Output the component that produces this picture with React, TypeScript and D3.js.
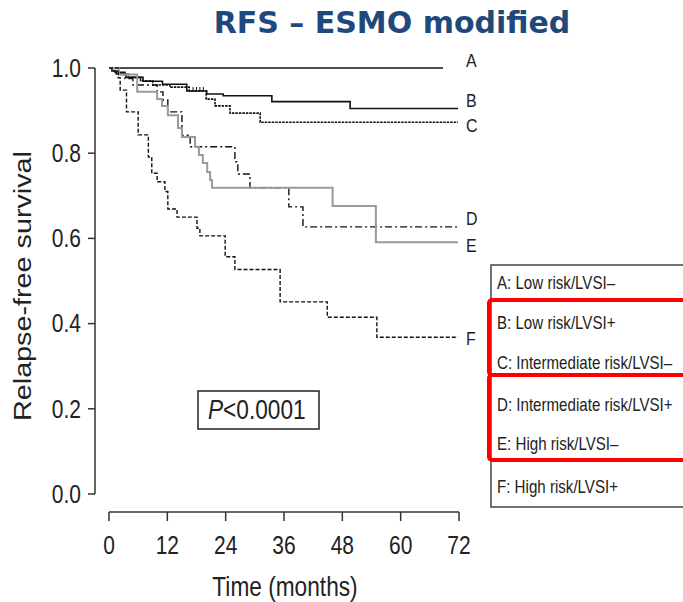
import React from 'react';
import * as d3 from 'd3';

// Kaplan-Meier steps: [time (months), survival]
const curveA: [number, number][] = [[0, 1], [68.7, 1]];
const curveB: [number, number][] = [
  [0, 1], [0.6, 0.993], [1.5, 0.986], [3.5, 0.978], [7.0, 0.969], [11.0, 0.962],
  [16.0, 0.946], [20.1, 0.939], [23.5, 0.935], [33.5, 0.921], [49.6, 0.905], [71.8, 0.905],
];
const curveC: [number, number][] = [
  [0, 1], [1.0, 0.993], [2.0, 0.985], [4.0, 0.978], [6.5, 0.97], [9.0, 0.96],
  [12.5, 0.955], [16.5, 0.946], [20.0, 0.927], [21.8, 0.911], [24.9, 0.894],
  [31.1, 0.8725], [71.8, 0.8725],
];
const curveD: [number, number][] = [
  [0, 1], [1.2, 0.99], [3.3, 0.975], [4.9, 0.96], [9.9, 0.944], [11.1, 0.925],
  [12.1, 0.897], [15.0, 0.842], [16.7, 0.815], [25.9, 0.78], [26.5, 0.751],
  [29.0, 0.719], [37.0, 0.674], [39.9, 0.627], [71.8, 0.627],
];
const curveE: [number, number][] = [
  [0, 1], [2.0, 0.985], [5.8, 0.944], [9.9, 0.927], [10.9, 0.911], [12.1, 0.889],
  [14.2, 0.859], [15.0, 0.838], [17.7, 0.815], [18.5, 0.796], [19.3, 0.777],
  [20.2, 0.756], [20.8, 0.737], [21.2, 0.719], [46.0, 0.676], [54.9, 0.591], [71.8, 0.591],
];
const curveF: [number, number][] = [
  [0, 1], [1.9, 0.977], [2.3, 0.948], [3.6, 0.897], [6.0, 0.843], [8.1, 0.791],
  [8.8, 0.753], [9.9, 0.733], [11.5, 0.71], [12.1, 0.669], [14.0, 0.65], [18.1, 0.624],
  [18.7, 0.606], [23.9, 0.557], [25.9, 0.527], [35.2, 0.451], [44.9, 0.415],
  [55.1, 0.368], [71.8, 0.368],
];
const censorB = [17.3, 18.0, 18.7, 19.4];

const curveLabels = ['A', 'B', 'C', 'D', 'E', 'F'];
const legendItems = [
  'A: Low risk/LVSI\u2013',
  'B: Low risk/LVSI+',
  'C: Intermediate risk/LVSI\u2013',
  'D: Intermediate risk/LVSI+',
  'E: High risk/LVSI\u2013',
  'F: High risk/LVSI+',
];
const xTicks = [0, 12, 24, 36, 48, 60, 72];
const yTicks = [0, 0.2, 0.4, 0.6, 0.8, 1.0];

const sans = '"Liberation Sans", Arial, sans-serif';
const SQUEEZE = 0.84; // the source figure uses a condensed Helvetica

// condensed text: horizontally squeezed Liberation Sans
function NText(props: {
  x: number;
  y: number;
  size: number;
  anchor?: 'start' | 'middle' | 'end';
  children: React.ReactNode;
}) {
  return (
    <text
      transform={`translate(${props.x},${props.y}) scale(${SQUEEZE},1)`}
      dy="0.35em"
      textAnchor={props.anchor || 'start'}
      fontFamily={sans}
      fontSize={props.size}
      fill="#222"
    >
      {props.children}
    </text>
  );
}

export default function App() {
  const x = d3.scaleLinear().domain([0, 72]).range([109, 459]);
  const y = d3.scaleLinear().domain([0, 1]).range([494, 68]);
  const line = d3
    .line<[number, number]>()
    .x((d) => x(d[0]))
    .y((d) => y(d[1]))
    .curve(d3.curveStepAfter);

  const series = [
    { data: curveA, stroke: '#111', dash: undefined, width: 1.6 },
    { data: curveB, stroke: '#111', dash: undefined, width: 1.6 },
    { data: curveC, stroke: '#111', dash: '2.5,1', width: 1.6 },
    { data: curveD, stroke: '#111', dash: '7,3,2,3', width: 1.4 },
    { data: curveE, stroke: '#9a9a9a', dash: undefined, width: 2 },
    { data: curveF, stroke: '#111', dash: '4,2', width: 1.4 },
  ];
  const labelY = [60, 100, 125, 218, 245, 338];
  const legendY = [283, 323, 363, 405, 444, 487];

  return (
    <svg
      width={683}
      height={602}
      style={{ position: 'absolute', left: 0, top: 0, background: '#fff' }}
    >
      <text
        x={392}
        y={33}
        textAnchor="middle"
        fontFamily='"DejaVu Sans", Verdana, sans-serif'
        fontWeight="bold"
        fontSize={30}
        fill="#1f497d"
      >
        RFS – ESMO modified
      </text>

      {/* y axis */}
      <line x1={95} x2={95} y1={y(1)} y2={y(0)} stroke="#333" strokeWidth={1.5} />
      {yTicks.map((t) => (
        <g key={t}>
          <line x1={88} x2={95} y1={y(t)} y2={y(t)} stroke="#333" strokeWidth={1.5} />
          <NText x={81} y={y(t)} size={25} anchor="end">
            {t.toFixed(1)}
          </NText>
        </g>
      ))}
      <text
        transform="translate(31,286) rotate(-90)"
        textAnchor="middle"
        fontFamily={sans}
        fontSize={23}
        textLength={270}
        lengthAdjust="spacingAndGlyphs"
        fill="#222"
      >
        Relapse-free survival
      </text>

      {/* x axis */}
      <line x1={x(0)} x2={x(72)} y1={512} y2={512} stroke="#333" strokeWidth={1.5} />
      {xTicks.map((t) => (
        <g key={t}>
          <line x1={x(t)} x2={x(t)} y1={512} y2={521} stroke="#333" strokeWidth={1.5} />
          <NText x={x(t)} y={545} size={25} anchor="middle">
            {t}
          </NText>
        </g>
      ))}
      <NText x={285} y={587} size={27} anchor="middle">
        Time (months)
      </NText>

      {/* curves */}
      {series.map((s, i) => (
        <path
          key={i}
          d={line(s.data) as string}
          fill="none"
          stroke={s.stroke}
          strokeWidth={s.width}
          strokeDasharray={s.dash}
        />
      ))}
      {censorB.map((t) => (
        <line
          key={t}
          x1={x(t)}
          x2={x(t)}
          y1={y(0.946)}
          y2={y(0.946) - 4}
          stroke="#111"
          strokeWidth={1}
        />
      ))}
      {curveLabels.map((l, i) => (
        <NText key={l} x={466} y={labelY[i]} size={19}>
          {l}
        </NText>
      ))}

      {/* P value */}
      <rect x={198} y={391} width={121} height={38} fill="none" stroke="#222" strokeWidth={1.5} />
      <NText x={208} y={410} size={27}>
        <tspan fontStyle="italic">P</tspan>
        <tspan>{'<0.0001'}</tspan>
      </NText>

      {/* legend */}
      <rect x={491} y={265} width={200} height={242} fill="#fff" stroke="#444" strokeWidth={1.5} />
      {legendItems.map((t, i) => (
        <NText key={t} x={497} y={legendY[i]} size={18}>
          {t}
        </NText>
      ))}
      <rect x={489} y={300} width={210} height={75} rx={3} fill="none" stroke="#ff0000" strokeWidth={4} />
      <rect x={489} y={375} width={210} height={85} rx={3} fill="none" stroke="#ff0000" strokeWidth={4} />
    </svg>
  );
}
